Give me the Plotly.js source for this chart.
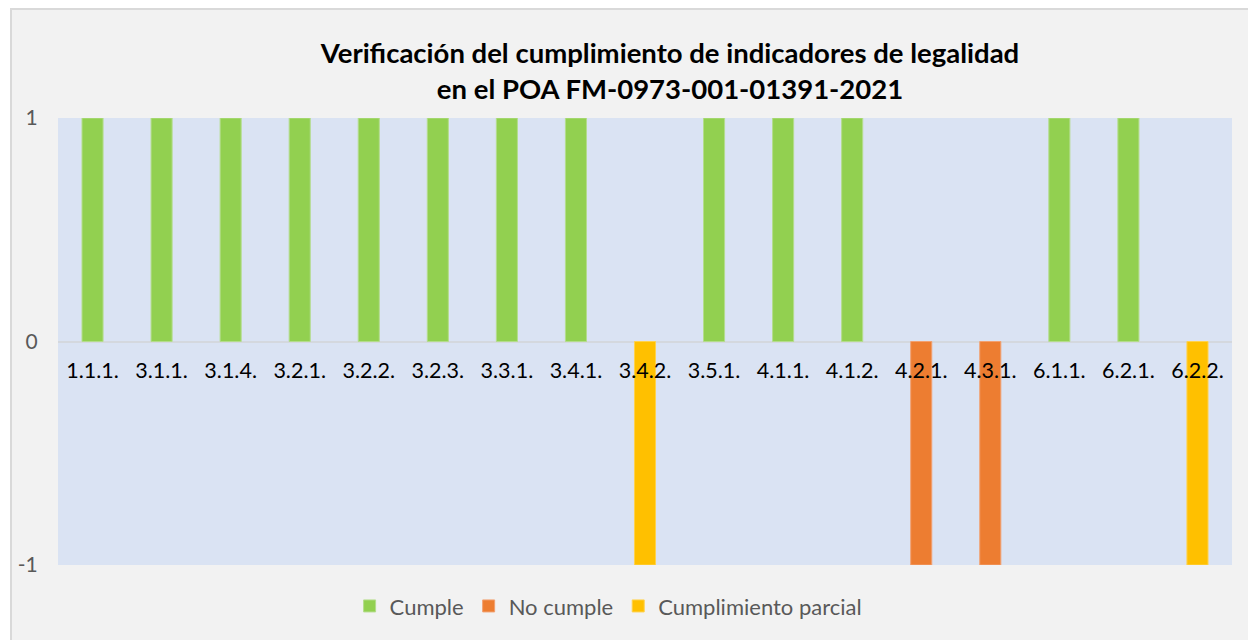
<!DOCTYPE html>
<html>
<head>
<meta charset="utf-8">
<script src="https://cdn.plot.ly/plotly-3.0.1.min.js"></script>
<style>
  html, body { margin: 0; padding: 0; background: #ffffff; width: 1248px; height: 640px; overflow: hidden; }
  #chart { position: absolute; left: 10px; top: 8px; width: 1238px; height: 632px;
           border-left: 2px solid #d9d9d9; border-top: 2px solid #d9d9d9; box-sizing: border-box; background: #f2f2f2; }
</style>
</head>
<body>
<div id="chart"></div>
<script>
const categories = ["1.1.1.", "3.1.1.", "3.1.4.", "3.2.1.", "3.2.2.", "3.2.3.", "3.3.1.", "3.4.1.", "3.4.2.",
                    "3.5.1.", "4.1.1.", "4.1.2.", "4.2.1.", "4.3.1.", "6.1.1.", "6.2.1.", "6.2.2."];
const cumple =   [1, 1, 1, 1, 1, 1, 1, 1, null, 1, 1, 1, null, null, 1, 1, null];
const noCumple = [null, null, null, null, null, null, null, null, null, null, null, null, -1, -1, null, null, null];
const parcial =  [null, null, null, null, null, null, null, null, -1, null, null, null, null, null, null, null, -1];
const seriesNames = ["Cumple", "No cumple", "Cumplimiento parcial"];
const yTicks = [-1, 0, 1];

const colors = ["#92d050", "#ed7d31", "#ffc000"];
const edge = ["#b4dd8c", "#f2a070", "#ffd24d"];
const vals = [cumple, noCumple, parcial];

const traces = vals.map((v, i) => ({
  type: "bar",
  name: seriesNames[i],
  x: categories,
  y: v,
  marker: { color: colors[i], line: { color: edge[i], width: 1 } },
  hoverinfo: "x+y+name"
}));

const layout = {
  width: 1236, height: 630,
  margin: { l: 46, r: 16, t: 108, b: 75 },
  paper_bgcolor: "#f2f2f2",
  plot_bgcolor: "#dae3f3",
  barmode: "overlay",
  bargap: 0.695,
  font: { family: "Lato, 'Open Sans', sans-serif", color: "#000000" },
  title: {
    text: "<b>Verificación del cumplimiento de indicadores de legalidad<br>en el POA FM-0973-001-01391-2021</b>",
    font: { family: "Lato, sans-serif", size: 27.5, color: "#000000" },
    x: 0.5213, xref: "paper", xanchor: "center",
    y: 0.9155, yref: "container", yanchor: "middle"
  },
  xaxis: {
    type: "category",
    anchor: "free",
    position: 0.5,
    showgrid: false,
    showline: false,
    zeroline: false,
    ticks: "outside",
    ticklen: 10,
    tickcolor: "rgba(0,0,0,0)",
    tickfont: { family: "Lato, sans-serif", size: 21.5, color: "#000000" },
    fixedrange: true
  },
  yaxis: {
    range: [-1, 1],
    tickvals: yTicks,
    ticktext: yTicks.map(String),
    showgrid: true,
    gridcolor: "#d4d8de",
    gridwidth: 2,
    zeroline: true,
    zerolinecolor: "#d4d8de",
    zerolinewidth: 2,
    showline: false,
    ticks: "outside",
    ticklen: 15,
    tickcolor: "rgba(0,0,0,0)",
    tickfont: { family: "Lato, sans-serif", size: 21, color: "#595959" },
    fixedrange: true
  },
  showlegend: true,
  legend: {
    orientation: "h",
    x: 0.469, xanchor: "center",
    y: -0.092, yanchor: "middle",
    bgcolor: "rgba(0,0,0,0)",
    font: { family: "Lato, sans-serif", size: 22, color: "#595959" },
    itemwidth: 30,
    traceorder: "normal"
  }
};

Plotly.newPlot("chart", traces, layout, { displayModeBar: false, staticPlot: true });
</script>
</body>
</html>
